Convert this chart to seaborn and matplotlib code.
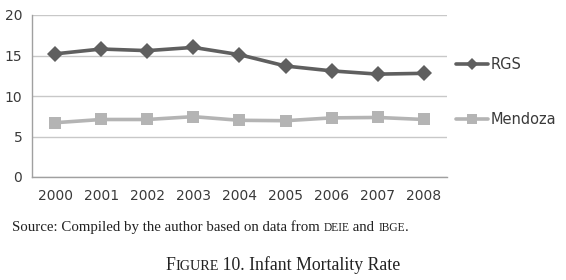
import pandas as pd
import matplotlib.pyplot as plt
import seaborn as sns

# data
years = ['2000', '2001', '2002', '2003', '2004', '2005', '2006', '2007', '2008']
rgs = [15.2, 15.8, 15.6, 16.0, 15.1, 13.7, 13.1, 12.7, 12.8]
mendoza = [6.7, 7.1, 7.1, 7.45, 7.0, 6.95, 7.3, 7.35, 7.1]
y_ticks = [0, 5, 10, 15, 20]

df = pd.DataFrame({
    'year': years * 2,
    'rate': rgs + mendoza,
    'region': ['RGS'] * len(years) + ['Mendoza'] * len(years),
})

sns.set_theme(style="white")
plt.rcParams['font.family'] = ['DejaVu Sans']

fig = plt.figure(figsize=(5.66, 2.80), dpi=100)
ax = fig.add_axes([32 / 566, 1 - 177 / 280, (447 - 32) / 566, (177 - 15) / 280])

sns.lineplot(data=df, x='year', y='rate', hue='region', style='region',
             palette={'RGS': '#5f5f5f', 'Mendoza': '#b4b4b4'},
             markers={'RGS': 'D', 'Mendoza': 's'},
             dashes=False, linewidth=2.6, markersize=8.5,
             markeredgewidth=0, ax=ax, sort=False)

ax.set_xlim(-0.5, len(years) - 0.5)
ax.set_ylim(0, 20)
ax.set_yticks(y_ticks)
ax.yaxis.grid(True, color='#c8c8c8', linewidth=1)
ax.xaxis.grid(False)
for s in ['top', 'right']:
    ax.spines[s].set_visible(False)
for s in ['left', 'bottom']:
    ax.spines[s].set_color('#a0a0a0')
    ax.spines[s].set_linewidth(1)
ax.tick_params(axis='both', length=0, labelsize=10, colors='#3a3a3a')
ax.tick_params(axis='x', pad=9)
ax.tick_params(axis='y', pad=7)
ax.set_xlabel('')
ax.set_ylabel('')

leg = ax.legend(title=None, frameon=False, loc='center left',
                bbox_to_anchor=(1.0, 0.525), borderaxespad=0.2,
                labelspacing=2.7, handlelength=2.2, handletextpad=0.2,
                fontsize=10.5, labelcolor='#3a3a3a')
for h in leg.legend_handles:
    h.set_markersize(6.5)

# source + caption in serif with small caps
serif = ['Liberation Serif', 'DejaVu Serif']

def run_text(x, y, parts, ha='left'):
    # parts: list of (text, size)
    fig.canvas.draw()
    r = fig.canvas.get_renderer()
    items = []
    for t, sz in parts:
        items.append(fig.text(0, y, t, fontsize=sz, family=serif, color='#222222', va='baseline'))
    widths = [it.get_window_extent(r).width for it in items]
    total = sum(widths)
    cx = x * 566 - (total / 2 if ha == 'center' else 0)
    for it, w in zip(items, widths):
        it.set_x(cx / 566)
        cx += w

run_text(12 / 566, 1 - 231 / 280,
         [('Source: Compiled by the author based on data from ', 10.7),
          ('DEIE', 8.3), (' and ', 10.7), ('IBGE', 8.3), ('.', 10.7)])
run_text(0.5, 1 - 270 / 280,
         [('F', 12.8), ('IGURE', 10.2), (' 10. Infant Mortality Rate', 12.8)],
         ha='center')

plt.savefig('out.png', dpi=100, facecolor='white')
